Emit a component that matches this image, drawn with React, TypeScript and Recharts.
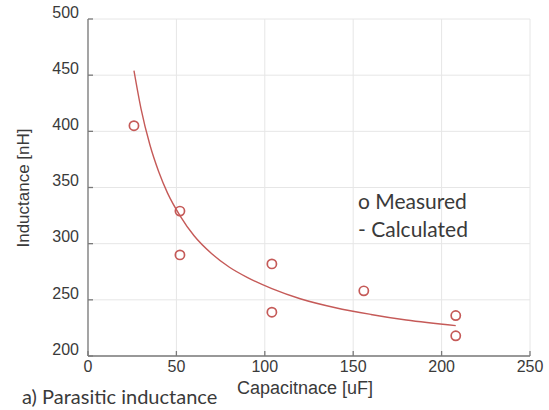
import React from "react";
import {
  ComposedChart,
  Line,
  Scatter,
  XAxis,
  YAxis,
  CartesianGrid,
} from "recharts";

// measured points (capacitance uF, inductance nH)
const measuredC = [26, 52, 52, 104, 104, 156, 208, 208];
const measuredL = [405, 329, 290, 282, 239, 258, 236, 218];

// calculated curve
const calcC = [26, 30, 35, 40, 45, 52, 60, 70, 80, 90, 104, 120, 140, 160, 180, 208];
const calcL = [454, 420, 388, 364, 345, 325, 307, 291, 279, 270, 260, 251, 243, 237, 232, 227];

const xTicks = [0, 50, 100, 150, 200, 250];
const yTicks = [200, 250, 300, 350, 400, 450, 500];

const RED = "#c55a58";
const AXIS = "#7a7a7a";
const TEXT = "#3a3a3a";
const TICK_FONT = "'Liberation Sans', Arial, sans-serif";
const NOTE_FONT = "Lato, 'Open Sans', sans-serif";

const measured = measuredC.map((c, i) => ({ c, l: measuredL[i] }));
const calculated = calcC.map((c, i) => ({ c, l: calcL[i] }));

const noTick = () => <g />;

export default function App() {
  return (
    <div style={{ position: "absolute", left: 0, top: 0, width: 549, height: 410, background: "#fff" }}>
      <ComposedChart
        width={549}
        height={410}
        margin={{ top: 19, right: 19, bottom: 0, left: 0 }}
      >
        <CartesianGrid stroke="#e6e6e6" strokeWidth={1} />
        <XAxis
          type="number"
          dataKey="c"
          domain={[0, 250]}
          ticks={xTicks}
          height={54}
          tickSize={-5}
          tickMargin={10}
          stroke={AXIS}
          strokeWidth={1.3}
          tick={{ fill: TEXT, fontSize: 16, fontFamily: TICK_FONT }}
          label={{
            content: () => (
              <text
                x={305}
                y={394}
                textAnchor="middle"
                fill={TEXT}
                fontSize={18}
                fontFamily={TICK_FONT}
              >
                Capacitnace [uF]
              </text>
            ),
          }}
        />
        <XAxis
          xAxisId="top"
          orientation="top"
          type="number"
          dataKey="c"
          domain={[0, 250]}
          ticks={xTicks}
          height={0}
          tickSize={-5}
          stroke={AXIS}
          strokeWidth={1.3}
          tick={noTick}
        />
        <YAxis
          type="number"
          dataKey="l"
          domain={[200, 500]}
          ticks={yTicks}
          width={88}
          tickSize={-5}
          tickMargin={14}
          stroke={AXIS}
          strokeWidth={1.3}
          tick={{ fill: TEXT, fontSize: 16, fontFamily: TICK_FONT, dy: -7 }}
          label={{
            content: () => (
              <text
                x={29}
                y={188}
                transform="rotate(-90, 29, 188)"
                textAnchor="middle"
                fill={TEXT}
                fontSize={17}
                fontFamily={TICK_FONT}
              >
                Inductance [nH]
              </text>
            ),
          }}
        />
        <YAxis
          yAxisId="right"
          orientation="right"
          type="number"
          domain={[200, 500]}
          ticks={yTicks}
          width={0}
          tickSize={-5}
          stroke={AXIS}
          strokeWidth={1.3}
          tick={noTick}
        />
        <Line
          data={calculated}
          dataKey="l"
          type="monotone"
          stroke={RED}
          strokeWidth={1.4}
          dot={false}
          isAnimationActive={false}
        />
        <Scatter
          data={measured}
          dataKey="l"
          isAnimationActive={false}
          shape={(p: any) => (
            <circle cx={p.cx} cy={p.cy} r={4.6} fill="none" stroke={RED} strokeWidth={1.7} />
          )}
        />
      </ComposedChart>
      <svg
        width={549}
        height={410}
        style={{ position: "absolute", left: 0, top: 0, pointerEvents: "none" }}
      >
        <text x={358} y={209} fill={TEXT} fontSize={21} fontFamily={NOTE_FONT}>
          o Measured
        </text>
        <text x={358} y={237} fill={TEXT} fontSize={21} fontFamily={NOTE_FONT}>
          - Calculated
        </text>
        <text x={22} y={404} fill={TEXT} fontSize={20} fontFamily={NOTE_FONT}>
          a) Parasitic inductance
        </text>
      </svg>
    </div>
  );
}
